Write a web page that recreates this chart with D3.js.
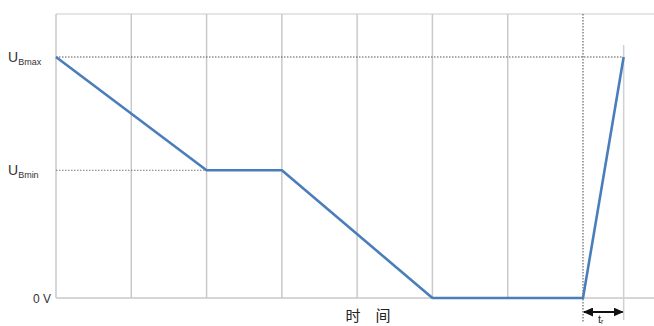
<!DOCTYPE html>
<html><head><meta charset="utf-8">
<script src="https://cdn.jsdelivr.net/npm/d3@7/dist/d3.min.js"></script>
<style>body{margin:0;background:#fff}svg{display:block}</style>
</head><body><svg id="c" width="654" height="326"></svg>
<script>
// data (time in grid units, voltage relative to UBmax)
const timeSteps = [0, 2, 3, 5, 7, 7.54];
const voltage   = [1, 0.53, 0.53, 0, 0, 1];
const gridTimes = [1, 2, 3, 4, 5, 6];
const levelLabels = [{main:"U", sub:"Bmax", v:1}, {main:"U", sub:"Bmin", v:0.53}];
const zeroLabel = "0 V";
const xTitle = "时　间";
const riseLabel = {main:"t", sub:"r"};

const svg = d3.select("#c");
const x = d3.scaleLinear().domain([0, 7]).range([56, 583]);
const y = d3.scaleLinear().domain([0, 1]).range([298, 57]);
const topY = 14;
const grey = "#c9c9c9";

// frame
svg.append("line").attr("x1", x(0)).attr("x2", 654).attr("y1", topY).attr("y2", topY).attr("stroke", "#dcdcdc").attr("stroke-width", 1.5);
svg.append("line").attr("x1", x(0)).attr("x2", x(0)).attr("y1", topY).attr("y2", y(0)).attr("stroke", grey).attr("stroke-width", 1.5);
svg.selectAll(".g").data(gridTimes).join("line").attr("x1", d => x(d)).attr("x2", d => x(d))
  .attr("y1", topY).attr("y2", y(0)).attr("stroke", grey).attr("stroke-width", 1.5);
svg.append("line").attr("x1", x(0)).attr("x2", 654).attr("y1", y(0)).attr("y2", y(0)).attr("stroke", grey).attr("stroke-width", 1.5);

// dotted level lines
svg.append("line").attr("x1", x(0)).attr("x2", x(timeSteps[5])).attr("y1", y(voltage[0])).attr("y2", y(voltage[0]))
  .attr("stroke", "#555").attr("stroke-width", 1).attr("stroke-dasharray", "1.5,1.5");
svg.append("line").attr("x1", x(0)).attr("x2", x(timeSteps[1])).attr("y1", y(voltage[1])).attr("y2", y(voltage[1]))
  .attr("stroke", "#777").attr("stroke-width", 1).attr("stroke-dasharray", "1.5,1.5");

// dotted marker at start of rise
svg.append("line").attr("x1", x(7)).attr("x2", x(7)).attr("y1", topY).attr("y2", 322)
  .attr("stroke", "#666").attr("stroke-width", 1.2).attr("stroke-dasharray", "1.5,1.5");
// light line at end of rise
svg.append("line").attr("x1", x(timeSteps[5])).attr("x2", x(timeSteps[5])).attr("y1", 45).attr("y2", 320)
  .attr("stroke", "#d0d0d0").attr("stroke-width", 1.5);

// curve
svg.append("path").datum(timeSteps.map((t, i) => [t, voltage[i]]))
  .attr("d", d3.line().x(d => x(d[0])).y(d => y(d[1])))
  .attr("fill", "none").attr("stroke", "#4a7ebb").attr("stroke-width", 2.6).attr("stroke-linejoin", "round");

// arrow
const defs = svg.append("defs");
defs.append("marker").attr("id", "ae").attr("viewBox", "0 0 10 10").attr("refX", 9).attr("refY", 5)
  .attr("markerWidth", 5).attr("markerHeight", 4.5).attr("orient", "auto-start-reverse").attr("markerUnits", "strokeWidth")
  .attr("preserveAspectRatio", "none")
  .append("path").attr("d", "M0,0 L10,5 L0,10 z").attr("fill", "#111");
svg.append("line").attr("x1", x(7) + 1).attr("x2", x(timeSteps[5]) - 1).attr("y1", 312).attr("y2", 312)
  .attr("stroke", "#111").attr("stroke-width", 2).attr("marker-start", "url(#ae)").attr("marker-end", "url(#ae)");

// labels
const font = "Liberation Sans, Arial, sans-serif";
levelLabels.forEach(l => {
  const t = svg.append("text").attr("x", 8).attr("y", y(l.v) + 5).attr("font-family", font).attr("fill", "#333");
  t.append("tspan").attr("font-size", 14).text(l.main);
  t.append("tspan").attr("font-size", 9).attr("dy", 3).text(l.sub);
});
svg.append("text").attr("x", 33).attr("y", y(0) + 5).attr("font-family", font).attr("font-size", 12).attr("fill", "#333").text(zeroLabel);
svg.append("text").attr("x", 368).attr("y", 321).attr("text-anchor", "middle").attr("font-family", "Noto Sans CJK SC").attr("font-size", 15).attr("fill", "#222").text(xTitle);
const tr = svg.append("text").attr("x", 598).attr("y", 323).attr("font-family", font).attr("fill", "#222");
tr.append("tspan").attr("font-size", 11).text(riseLabel.main);
tr.append("tspan").attr("font-size", 7).attr("dy", 1).text(riseLabel.sub);
</script></body></html>
